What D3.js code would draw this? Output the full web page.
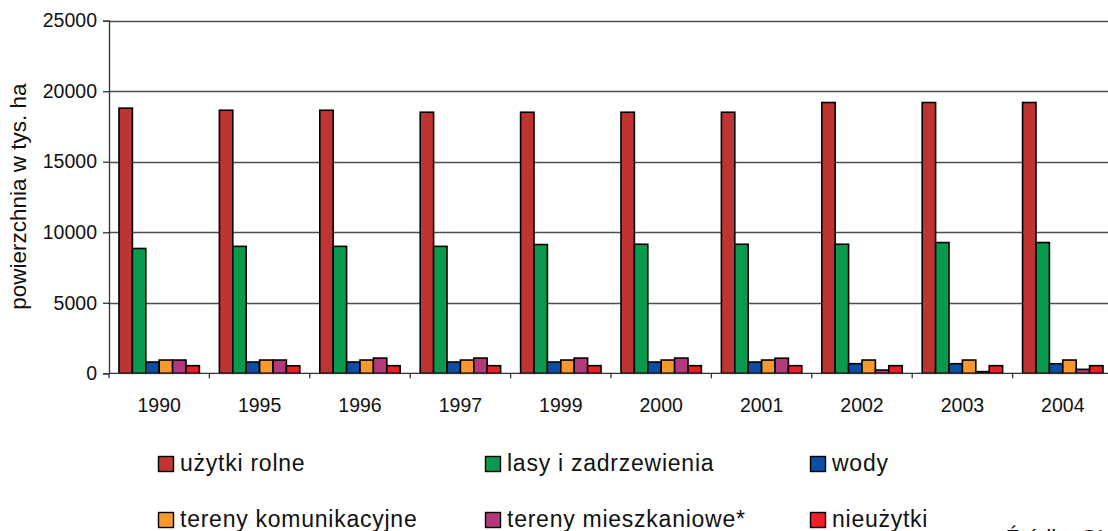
<!DOCTYPE html>
<html>
<head>
<meta charset="utf-8">
<script src="https://cdn.jsdelivr.net/npm/d3@7"></script>
<style>
  html, body { margin: 0; padding: 0; background: #fff; overflow: hidden; }
  svg { display: block; font-family: "Liberation Sans", Arial, sans-serif; }
</style>
</head>
<body>
<svg id="chart" width="1108" height="531"></svg>
<script>
// Land use, thousand hectares
const years = ["1990", "1995", "1996", "1997", "1999", "2000", "2001", "2002", "2003", "2004"];
const seriesNames = ["użytki rolne", "lasy i zadrzewienia", "wody", "tereny komunikacyjne", "tereny mieszkaniowe*", "nieużytki"];
const uzytkiRolne   = [18800, 18650, 18650, 18510, 18510, 18510, 18510, 19200, 19200, 19200];
const lasy          = [8850, 9000, 9000, 9000, 9130, 9150, 9150, 9150, 9270, 9270];
const wody          = [800, 800, 800, 800, 800, 800, 800, 680, 680, 680];
const komunikacyjne = [940, 940, 940, 940, 940, 940, 940, 940, 940, 940];
const mieszkaniowe  = [940, 940, 1080, 1080, 1080, 1080, 1070, 230, 120, 280];
const nieuzytki     = [540, 530, 540, 540, 540, 540, 540, 540, 540, 540];
const yTicks = [0, 5000, 10000, 15000, 20000, 25000];
const yTitle = "powierzchnia w tys. ha";
const sourceNote = "Źródło: GUS";

const seriesValues = [uzytkiRolne, lasy, wody, komunikacyjne, mieszkaniowe, nieuzytki];
const colors = ["#BE3432", "#0A9A4D", "#0D4EA2", "#F7992D", "#B3397A", "#EC1E26"];

const svg = d3.select("#chart");
const plot = { left: 109, right: 1113, top: 20.7, bottom: 373.3 };

const x0 = d3.scaleBand().domain(years).range([plot.left, plot.right]).paddingInner(0).paddingOuter(0);
const x1 = d3.scaleBand().domain(d3.range(seriesNames.length)).range([0, x0.bandwidth()])
  .paddingInner(0).paddingOuter(0.746);
const y = d3.scaleLinear().domain([0, 25000]).range([plot.bottom, plot.top]);

// Horizontal gridlines
svg.append("g")
  .selectAll("line")
  .data(yTicks.filter(d => d > 0))
  .join("line")
  .attr("x1", plot.left).attr("x2", plot.right)
  .attr("y1", d => Math.round(y(d)) + 0.5).attr("y2", d => Math.round(y(d)) + 0.5)
  .attr("stroke", "#4d4d4d").attr("stroke-width", 1.3);

// Bars
const groups = svg.append("g")
  .selectAll("g")
  .data(years)
  .join("g")
  .attr("transform", d => `translate(${x0(d)},0)`);

groups.selectAll("rect")
  .data((d, i) => seriesValues.map((vals, s) => ({ s, v: vals[i] })))
  .join("rect")
  .attr("x", d => x1(d.s))
  .attr("width", x1.bandwidth())
  .attr("y", d => y(d.v))
  .attr("height", d => y(0) - y(d.v))
  .attr("fill", d => colors[d.s])
  .attr("stroke", "#000")
  .attr("stroke-width", 1.6);

// Y axis
const yAxis = svg.append("g")
  .attr("transform", `translate(${plot.left},0)`)
  .call(d3.axisLeft(y).tickValues(yTicks).tickSize(6).tickPadding(6).tickFormat(d3.format("d")));
yAxis.select(".domain").attr("stroke", "#333").attr("stroke-width", 1.3);
yAxis.selectAll(".tick line").attr("stroke", "#333").attr("stroke-width", 1.3);
yAxis.selectAll("text").attr("font-size", 19.5).attr("fill", "#111")
  .attr("font-family", "'Liberation Sans', Arial, sans-serif");

// X axis (ticks at category boundaries)
const xAxisG = svg.append("g").attr("transform", `translate(0,${plot.bottom})`);
xAxisG.append("line")
  .attr("x1", plot.left).attr("x2", plot.right)
  .attr("stroke", "#333").attr("stroke-width", 1.3);
xAxisG.selectAll("line.tk")
  .data(years)
  .join("line").attr("class", "tk")
  .attr("x1", d => x0(d)).attr("x2", d => x0(d))
  .attr("y1", 0).attr("y2", 5)
  .attr("stroke", "#333").attr("stroke-width", 1.3);
xAxisG.selectAll("text")
  .data(years)
  .join("text")
  .attr("x", d => x0(d) + x0.bandwidth() / 2)
  .attr("y", 38.3)
  .attr("text-anchor", "middle")
  .attr("font-size", 19.5)
  .attr("fill", "#111")
  .text(d => d);

// Y axis title
svg.append("text")
  .attr("transform", `translate(26,${196.7}) rotate(-90)`)
  .attr("text-anchor", "middle")
  .attr("font-size", 22.5)
  .attr("fill", "#111")
  .text(yTitle);

// Legend
const legendCols = [158, 485, 810];
const legendRows = [456, 512];
const legend = svg.append("g");
const items = legend.selectAll("g")
  .data(seriesNames.map((name, i) => ({ name, i })))
  .join("g")
  .attr("transform", d => `translate(${legendCols[d.i % 3]},${legendRows[Math.floor(d.i / 3)]})`);
items.append("rect")
  .attr("x", 0.5).attr("y", 0.5)
  .attr("width", 15).attr("height", 15)
  .attr("fill", d => colors[d.i])
  .attr("stroke", "#000").attr("stroke-width", 1.4);
items.append("text")
  .attr("x", 22).attr("y", 15)
  .attr("font-size", 23)
  .attr("letter-spacing", 0.75)
  .attr("fill", "#111")
  .text(d => d.name);

// Source note, running off the bottom edge
svg.append("text")
  .attr("x", 1006).attr("y", 545)
  .attr("font-size", 22)
  .attr("fill", "#111")
  .text(sourceNote);
</script>
</body>
</html>
